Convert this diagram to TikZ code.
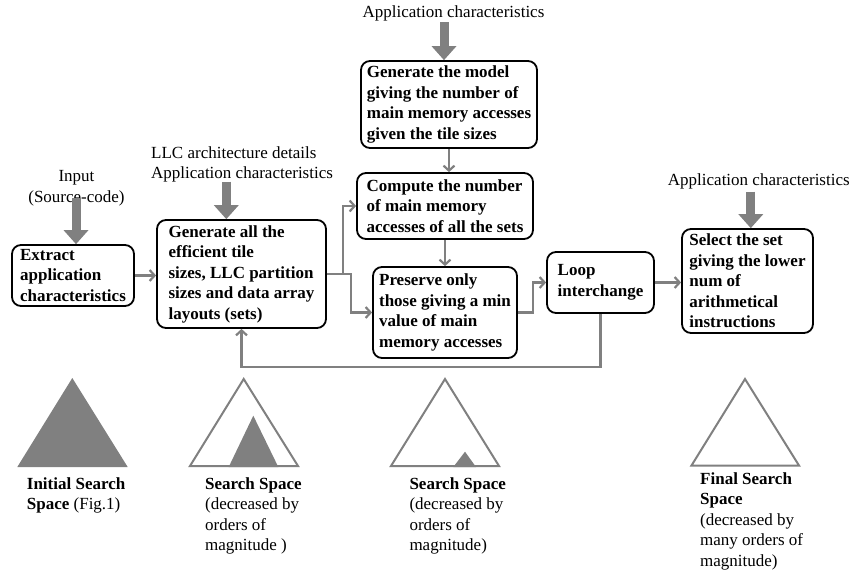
\documentclass[tikz,border=0pt]{standalone}
\usepackage{fontspec}
\setmainfont{Liberation Serif}
\usetikzlibrary{arrows.meta}

\definecolor{flowgray}{RGB}{128,128,128}
\newcommand{\figfont}{\fontsize{17}{20.5}\selectfont}

\tikzset{
  box/.style={draw, line width=1.8pt, rounded corners=9pt, align=left, inner sep=0pt, font=\figfont\bfseries},
  flow/.style={draw=flowgray, line width=2.2pt, -{Straight Barb[length=5pt,width=11pt]}},
  bigarrow/.style={draw=flowgray, line width=9pt, -{Triangle[length=14pt,width=25pt,line width=0pt]}},
  space/.style={draw=flowgray, line width=2pt, line join=miter},
  note/.style={inner sep=0pt, align=left, anchor=north west}
}

\begin{document}
\begin{tikzpicture}[x=1pt, y=-1pt, font=\figfont]
  \useasboundingbox (0,0) rectangle (852,571);

  \node[box, minimum width=122pt, minimum height=61pt] (extract) at (73,275.5) {Extract\\application\\characteristics};
  \node[box, minimum width=169pt, minimum height=108pt] (tiles) at (241.5,274) {Generate all the\\efficient tile\\sizes, LLC partition\\sizes and data array\\layouts (sets)};
  \node[box, minimum width=176pt, minimum height=87pt] (model) at (449,104.5) {Generate the model\\giving the number of\\main memory accesses\\given the tile sizes};
  \node[box, minimum width=176pt, minimum height=66pt] (compute) at (445,206) {Compute the number\\of main memory\\accesses of all the sets};
  \node[box, minimum width=144pt, minimum height=91pt] (preserve) at (445,312.5) {Preserve only\\those giving a min\\value of main\\memory accesses};
  \node[box, minimum width=107pt, minimum height=61pt] (loop) at (600.5,282.5) {Loop\\interchange};
  \node[box, minimum width=131pt, minimum height=104pt] (select) at (747.5,281) {Select the set\\giving the lower\\num of\\arithmetical\\instructions};

  \node[inner sep=0pt] (appmodel) at (453.5,13) {Application characteristics};
  \node[inner sep=0pt, align=left, anchor=west] (llc) at (151,164.5) {LLC architecture details\\Application characteristics};
  \node[inner sep=0pt, align=center] (input) at (76.5,188) {Input\\(Source-code)};
  \node[inner sep=0pt] (appselect) at (758.8,181.5) {Application characteristics};

  \coordinate (modelin) at (444,22);
  \coordinate (extractin) at (76,198);
  \coordinate (tilesin) at (226.3,181.7);
  \coordinate (selectin) at (750.8,191.7);
  \draw[bigarrow] (modelin) -- (modelin |- model.north);
  \draw[bigarrow] (extractin) -- (extractin |- extract.north);
  \draw[bigarrow] (tilesin) -- (tilesin |- tiles.north);
  \draw[bigarrow] (selectin) -- (selectin |- select.north);

  \draw[flow] (extract.east) -- (extract.east -| tiles.west);
  \draw[flow] (tiles.east) -- ++(16,0) |- (compute.west);
  \draw[flow] (tiles.east) -- ++(24,0) |- (preserve.west);
  \draw[flow] (model.south) -- (model.south |- compute.north);
  \draw[flow] (compute.south) -- (preserve.north);
  \draw[flow] (preserve.east) -- ++(15,0) |- (loop.west);
  \draw[flow] (loop.east) -- (loop.east -| select.west);
  \draw[flow] (loop.south) -- ++(0,53) -| (tiles.south);

  \fill[flowgray] (17.3,467) -- (72.3,378) -- (127.7,467) -- cycle;
  \draw[space] (190,466) -- (243.7,379) -- (298,466) -- cycle;
  \fill[flowgray] (228.7,467) -- (253.3,415.7) -- (278.3,467) -- cycle;
  \draw[space] (391,466) -- (445,379) -- (499,466) -- cycle;
  \fill[flowgray] (453.3,467) -- (465,451.7) -- (476,467) -- cycle;
  \draw[space] (691.5,465.5) -- (745,379) -- (799,465.5) -- cycle;

  \node[note] (initial) at (26.7,477) {\textbf{Initial Search}\\\textbf{Space} (Fig.1)};
  \node[note] (second) at (205,477) {\textbf{Search Space}\\(decreased by\\orders of\\magnitude )};
  \node[note] (third) at (409.3,477) {\textbf{Search Space}\\(decreased by\\orders of\\magnitude)};
  \node[note] (final) at (700,472) {\textbf{Final Search}\\\textbf{Space}\\(decreased by\\many orders of\\magnitude)};
\end{tikzpicture}
\end{document}
